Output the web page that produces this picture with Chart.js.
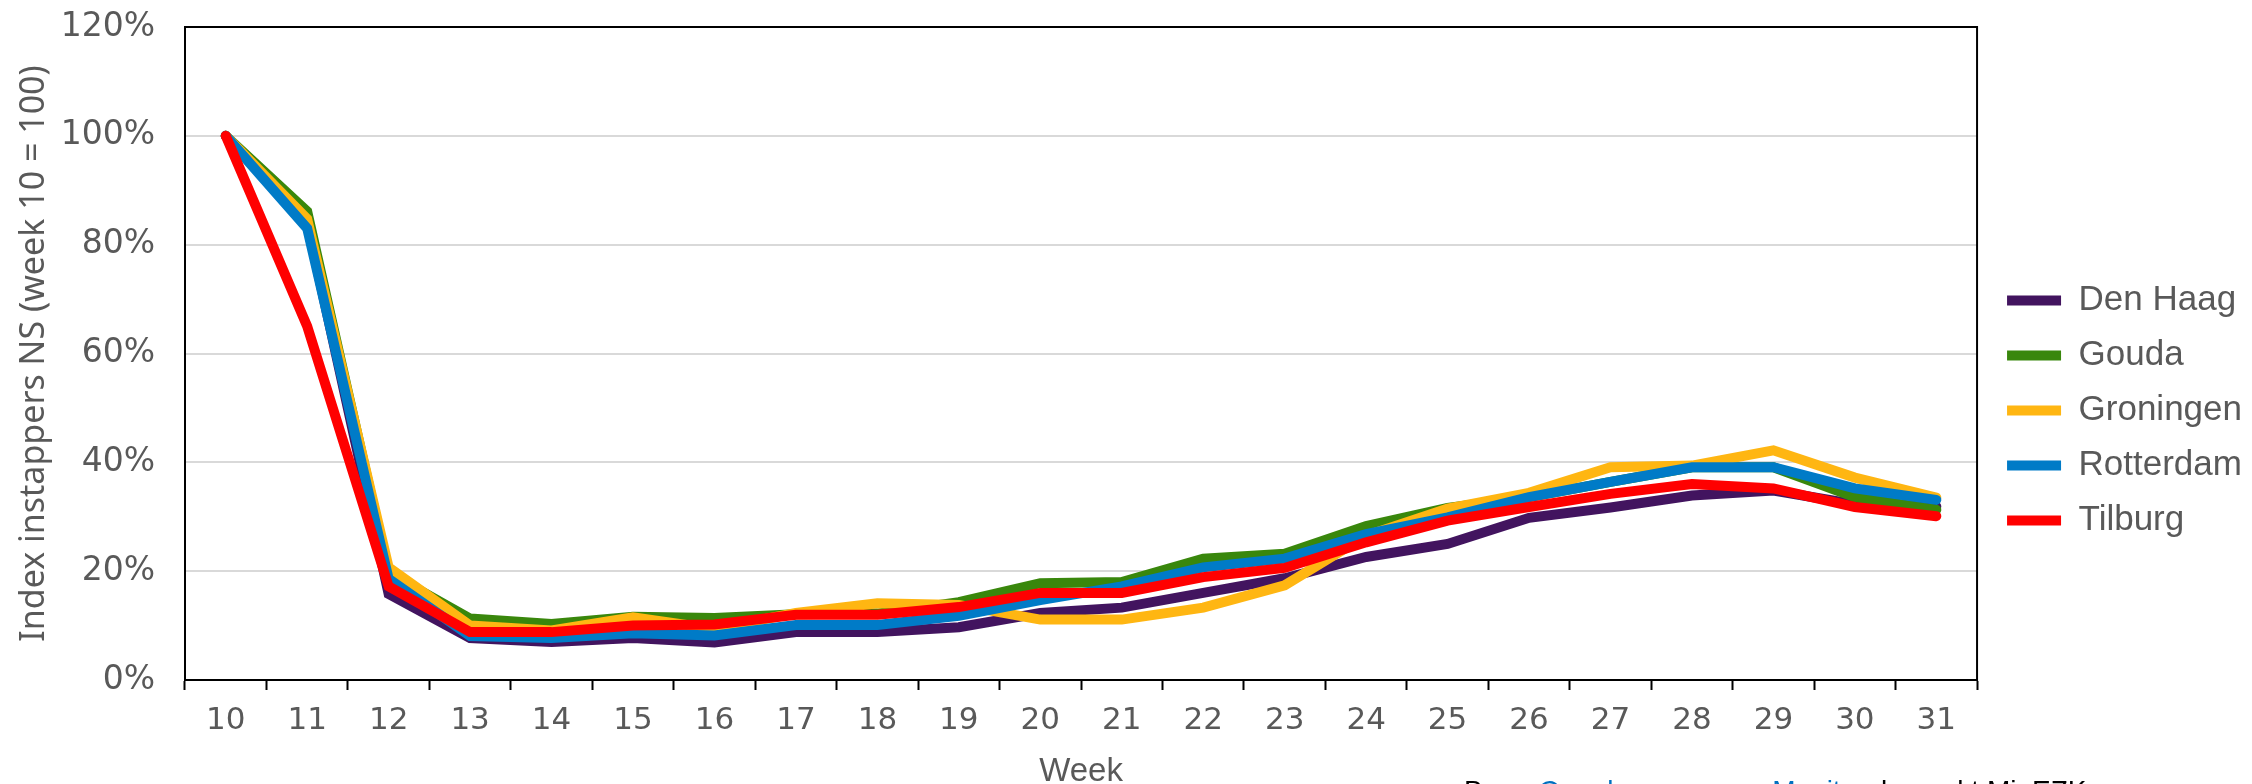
<!DOCTYPE html>
<html>
<head>
<meta charset="utf-8">
<script src="https://cdn.jsdelivr.net/npm/chart.js@4"></script>
<style>
  html, body { margin: 0; padding: 0; background: #fff; }
  #wrap { width: 2252px; height: 784px; }
</style>
</head>
<body>
<div id="wrap"><canvas id="chart" width="2252" height="784"></canvas></div>
<script>
// weeks 10 .. 31
const weeks = ['10','11','12','13','14','15','16','17','18','19','20','21','22','23','24','25','26','27','28','29','30','31'];

const denHaag   = [100, 84,   15.8, 7.7,  7.0,  7.7,  6.9,  8.8,  8.8,  9.7,  12.3, 13.3, 16.0, 18.7, 22.6, 25.0, 29.8, 31.7, 33.9, 34.8, 32.3, 31.9];
const gouda     = [100, 86.1, 19.7, 11.3, 10.3, 11.6, 11.4, 12.1, 12.2, 14.3, 17.8, 18.0, 22.3, 23.2, 28.3, 31.6, 33.6, 36.4, 39.1, 39.1, 33.6, 31.3];
const groningen = [100, 84.7, 20.7, 10.0, 9.1,  11.5, 9.4,  12.3, 14.1, 13.8, 11.1, 11.1, 13.3, 17.4, 26.5, 31.5, 34.4, 39.1, 39.4, 42.2, 37.2, 33.5];
const rotterdam = [100, 83.0, 18.6, 8.1,  7.7,  8.6,  8.2,  10.1, 10.1, 11.8, 14.7, 17.2, 20.7, 22.3, 26.8, 29.9, 33.6, 36.4, 39.1, 39.1, 35.2, 33.1];
const tilburg   = [100, 65.0, 17.2, 8.8,  8.8,  10.0, 10.2, 12.0, 12.0, 13.4, 16.0, 16.0, 18.9, 20.6, 25.3, 29.3, 31.8, 34.2, 36.0, 35.2, 31.8, 30.1];

const names  = ['Den Haag', 'Gouda', 'Groningen', 'Rotterdam', 'Tilburg'];
const colors = ['#42145f', '#39870c', '#ffb612', '#007bc7', '#ff0000'];
const series = [denHaag, gouda, groningen, rotterdam, tilburg];

const yTicks = [0, 20, 40, 60, 80, 100, 120];

const grey = '#595959';

// box around plot, legend nudge, source line at the bottom
const framePlugin = {
  id: 'frame',
  afterLayout(chart) {
    const lg = chart.legend;
    lg.left += 10; lg.right += 10;
    lg.top += 5; lg.bottom += 5;
  },
  afterDatasetsDraw(chart) {
    const a = chart.chartArea, ctx = chart.ctx;
    ctx.save();
    ctx.strokeStyle = '#000';
    ctx.lineWidth = 2;
    ctx.strokeRect(a.left, a.top, a.right - a.left, a.bottom - a.top);
    ctx.restore();
  },
  afterDraw(chart) {
    const ctx = chart.ctx;
    ctx.save();
    ctx.font = '28px "Liberation Sans", Arial, sans-serif';
    ctx.textBaseline = 'top';
    let x = 1464;
    const y = 778;
    const parts = [['Bron: ', '#000'], ['Openbaar vervoer Monitor', '#0070c0'], [', bewerkt MinEZK', '#000']];
    parts.forEach(p => {
      ctx.fillStyle = p[1];
      ctx.fillText(p[0], x, y);
      x += ctx.measureText(p[0]).width;
    });
    ctx.restore();
  }
};

new Chart(document.getElementById('chart'), {
  type: 'line',
  data: {
    labels: weeks,
    datasets: series.map((s, i) => ({
      label: names[i],
      data: s,
      borderColor: colors[i],
      backgroundColor: colors[i],
      borderWidth: 10,
      borderCapStyle: 'round',
      pointRadius: 0,
      tension: 0,
      order: names.length - i
    }))
  },
  options: {
    responsive: false,
    animation: false,
    layout: { padding: { left: 8, right: 10, top: 27, bottom: 0 } },
    plugins: {
      tooltip: { enabled: false },
      legend: {
        position: 'right',
        labels: {
          usePointStyle: true,
          pointStyle: 'line',
          pointStyleWidth: 54,
          padding: 20,
          color: grey,
          sort: (a, b) => a.datasetIndex - b.datasetIndex,
          font: { family: '"Liberation Sans", Arial, sans-serif', size: 35 }
        }
      }
    },
    scales: {
      x: {
        offset: true,
        afterFit(axis) { axis.height = 104; },
        grid: {
          offset: true,
          drawOnChartArea: false,
          drawTicks: true,
          tickLength: 10,
          tickWidth: 2,
          tickColor: '#000'
        },
        border: { display: true, color: '#000', width: 2 },
        ticks: {
          color: grey,
          padding: 12,
          maxRotation: 0,
          autoSkip: false,
          font: { family: '"DejaVu Sans", Verdana, sans-serif', size: 31 }
        },
        title: {
          display: true,
          text: 'Week',
          color: grey,
          padding: { top: 4, bottom: -8 },
          font: { family: '"Liberation Sans", Arial, sans-serif', size: 33 }
        }
      },
      y: {
        min: 0,
        max: 120,
        afterFit(axis) {
          axis.width = 177;
          axis.paddingTop = 0;
          axis.paddingBottom = 0;
        },
        afterBuildTicks(axis) { axis.ticks = yTicks.map(v => ({ value: v })); },
        grid: { color: '#d9d9d9', lineWidth: 2, drawTicks: false },
        border: { display: true, color: '#000', width: 2 },
        ticks: {
          color: grey,
          padding: 30,
          callback: v => v + '%',
          font: { family: '"DejaVu Sans", Verdana, sans-serif', size: 33 }
        },
        title: {
          display: true,
          text: 'Index instappers NS (week 10 = 100)',
          color: grey,
          padding: { top: 6, bottom: 0 },
          font: { family: '"Noto Sans", sans-serif', size: 34 }
        }
      }
    }
  },
  plugins: [framePlugin]
});
</script>
</body>
</html>
